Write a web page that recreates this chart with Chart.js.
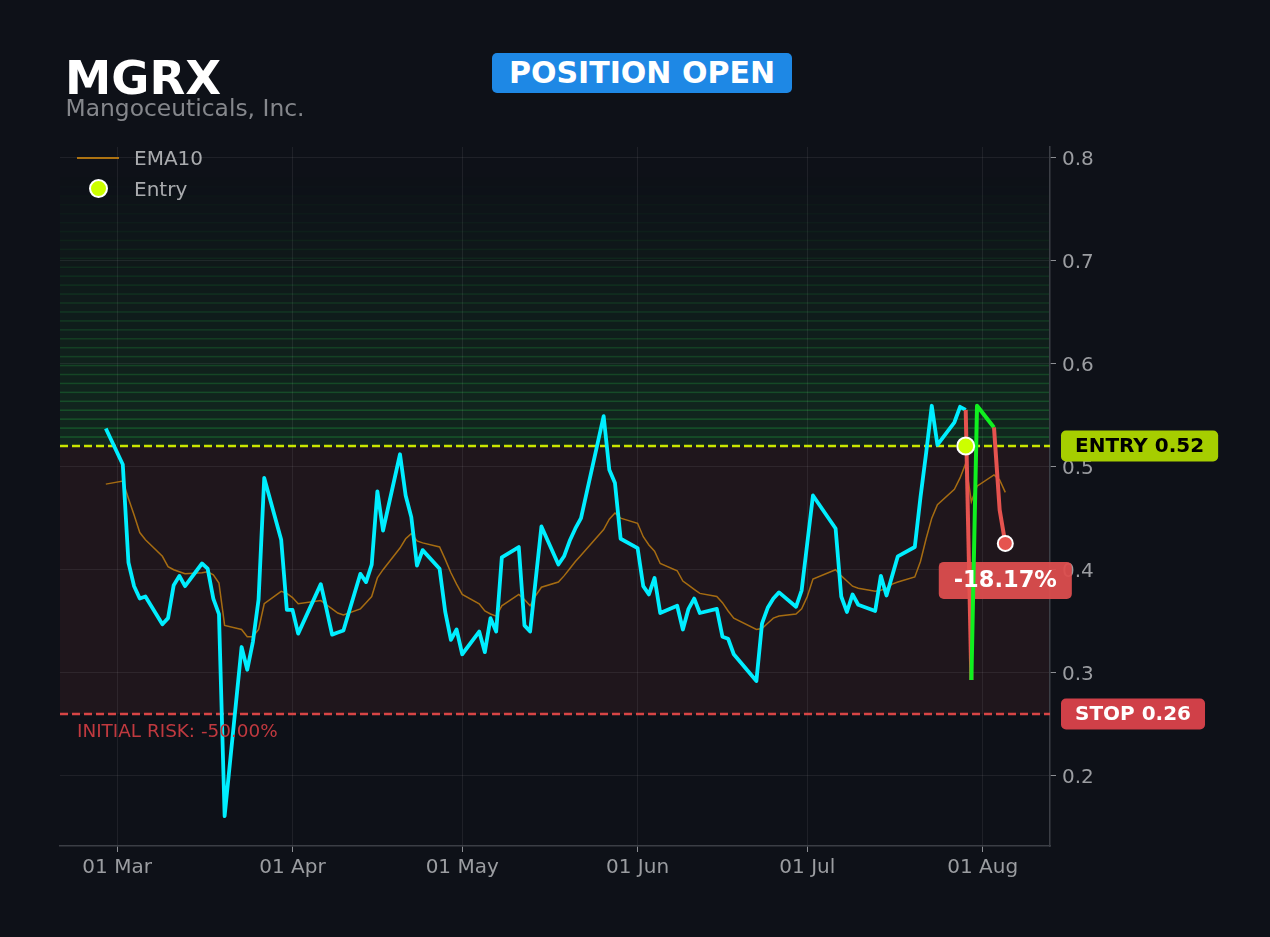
<!DOCTYPE html>
<html>
<head>
<meta charset="utf-8">
<title>MGRX - position open</title>
<script src="https://cdn.jsdelivr.net/npm/chart.js@4.4.1/dist/chart.umd.min.js"></script>
<style>
    html, body { margin: 0; padding: 0; background: #0e1118; }
    body { width: 1270px; height: 937px; position: relative; overflow: hidden; font-family: 'DejaVu Sans', sans-serif; }
    #chart { position: absolute; left: 0; top: 0; }
    .ticker { position: absolute; left: 65px; top: 55px; font-size: 46.5px; line-height: 46px; font-weight: bold; color: #ffffff; }
    .company { position: absolute; left: 65.5px; top: 97px; font-size: 23.4px; line-height: 23px; color: #85878c; }
    .status { position: absolute; left: 492px; top: 53px; width: 300px; height: 40px; line-height: 40px; border-radius: 5px;
              background: #1e88e5; color: #fff; font-size: 30px; font-weight: bold; text-align: center; }
    .lg-text { position: absolute; left: 134px; font-size: 20px; line-height: 20px; color: #a9abae; }
    .lg-line { position: absolute; left: 77px; top: 156.5px; width: 42px; height: 2px; background: rgba(200,130,15,0.85); }
    .lg-dot { position: absolute; left: 88.5px; top: 178.5px; width: 15px; height: 15px; border: 2px solid #fff; border-radius: 50%; background: #ccff00; }
</style>
</head>
<body>
<canvas id="chart" width="1270" height="937"></canvas>
<div class="ticker">MGRX</div>
<div class="company">Mangoceuticals, Inc.</div>
<div class="status">POSITION OPEN</div>
<div class="lg-line"></div>
<div class="lg-text" style="top:148px">EMA10</div>
<div class="lg-dot"></div>
<div class="lg-text" style="top:178.5px">Entry</div>

<script>
// ---- data ----
const DATES = [
    '2026-02-27',
    '2026-03-02', '2026-03-03', '2026-03-04', '2026-03-05', '2026-03-06',
    '2026-03-09', '2026-03-10', '2026-03-11', '2026-03-12', '2026-03-13',
    '2026-03-16', '2026-03-17', '2026-03-18', '2026-03-19', '2026-03-20',
    '2026-03-23', '2026-03-24', '2026-03-25', '2026-03-26', '2026-03-27',
    '2026-03-30', '2026-03-31', '2026-04-01', '2026-04-02',
    '2026-04-06', '2026-04-07', '2026-04-08', '2026-04-09', '2026-04-10',
    '2026-04-13', '2026-04-14', '2026-04-15', '2026-04-16', '2026-04-17',
    '2026-04-20', '2026-04-21', '2026-04-22', '2026-04-23', '2026-04-24',
    '2026-04-27', '2026-04-28', '2026-04-29', '2026-04-30', '2026-05-01',
    '2026-05-04', '2026-05-05', '2026-05-06', '2026-05-07', '2026-05-08',
    '2026-05-11', '2026-05-12', '2026-05-13', '2026-05-14', '2026-05-15',
    '2026-05-18', '2026-05-19', '2026-05-20', '2026-05-21', '2026-05-22',
    '2026-05-26', '2026-05-27', '2026-05-28', '2026-05-29',
    '2026-06-01', '2026-06-02', '2026-06-03', '2026-06-04', '2026-06-05',
    '2026-06-08', '2026-06-09', '2026-06-10', '2026-06-11', '2026-06-12',
    '2026-06-15', '2026-06-16', '2026-06-17', '2026-06-18',
    '2026-06-22', '2026-06-23', '2026-06-24', '2026-06-25', '2026-06-26',
    '2026-06-29', '2026-06-30', '2026-07-01', '2026-07-02',
    '2026-07-06', '2026-07-07', '2026-07-08', '2026-07-09', '2026-07-10',
    '2026-07-13', '2026-07-14', '2026-07-15', '2026-07-16', '2026-07-17',
    '2026-07-20', '2026-07-21', '2026-07-22', '2026-07-23', '2026-07-24',
    '2026-07-27', '2026-07-28', '2026-07-29'
];
const CLOSE = [
    0.537,
    0.502, 0.407, 0.384, 0.372, 0.374,
    0.347, 0.353, 0.385, 0.394, 0.384,
    0.406, 0.401, 0.372, 0.357, 0.161,
    0.325, 0.303, 0.330, 0.371, 0.489,
    0.429, 0.361, 0.361, 0.338,
    0.386, 0.362, 0.337, 0.339, 0.341,
    0.396, 0.388, 0.405, 0.476, 0.438,
    0.512, 0.472, 0.451, 0.404, 0.419,
    0.401, 0.359, 0.332, 0.342, 0.318,
    0.340, 0.320, 0.353, 0.340, 0.412,
    0.422, 0.346, 0.340, 0.391, 0.442,
    0.405, 0.413, 0.428, 0.440, 0.450,
    0.549, 0.497, 0.484, 0.430,
    0.421, 0.384, 0.376, 0.392, 0.358,
    0.365, 0.342, 0.362, 0.372, 0.358,
    0.362, 0.335, 0.333, 0.318,
    0.292, 0.348, 0.363, 0.372, 0.378,
    0.364, 0.380, 0.426, 0.472,
    0.440, 0.374, 0.359, 0.376, 0.366,
    0.360, 0.394, 0.375, 0.394, 0.413,
    0.422, 0.470, 0.513, 0.559, 0.521,
    0.543, 0.558, 0.555
];

// after the entry day
const POST_DATES = ['2026-07-29', '2026-07-30', '2026-07-31', '2026-08-03', '2026-08-04', '2026-08-05'];
const POST_CLOSE = [0.555, 0.293, 0.559, 0.538, 0.458, 0.4255];

// EMA10, one value per day of DATES followed by POST_DATES (without the repeated entry day)
const EMA10 = [
    0.483,
    0.486, 0.469, 0.453, 0.436, 0.429,
    0.413, 0.403, 0.400, 0.398, 0.396,
    0.397, 0.398, 0.395, 0.387, 0.346,
    0.342, 0.335, 0.335, 0.342, 0.367,
    0.379, 0.377, 0.373, 0.367,
    0.370, 0.366, 0.362, 0.358, 0.356,
    0.362, 0.368, 0.374, 0.392, 0.400,
    0.421, 0.430, 0.435, 0.428, 0.426,
    0.422, 0.410, 0.397, 0.386, 0.376,
    0.367, 0.360, 0.357, 0.355, 0.365,
    0.376, 0.371, 0.365, 0.375, 0.383,
    0.388, 0.394, 0.401, 0.408, 0.414,
    0.439, 0.449, 0.455, 0.450,
    0.445, 0.432, 0.424, 0.418, 0.406,
    0.399, 0.389, 0.385, 0.381, 0.377,
    0.374, 0.368, 0.360, 0.353,
    0.342, 0.343, 0.348, 0.353, 0.355,
    0.357, 0.362, 0.374, 0.391,
    0.400, 0.394, 0.389, 0.384, 0.382,
    0.379, 0.380, 0.382, 0.386, 0.388,
    0.393, 0.408, 0.430, 0.450, 0.463,
    0.478, 0.489, 0.503,
    0.466, 0.481, 0.492, 0.487, 0.475
];

const ENTRY_DATE = '2026-07-29';
const ENTRY_PRICE = 0.52;
const STOP_PRICE = 0.26;
const TARGET_PRICE = 0.78;

const TICK_DATES = ['2026-03-01', '2026-04-01', '2026-05-01', '2026-06-01', '2026-07-01', '2026-08-01'];
const TICK_LABELS = ['01 Mar', '01 Apr', '01 May', '01 Jun', '01 Jul', '01 Aug'];
const Y_TICKS = [0.2, 0.3, 0.4, 0.5, 0.6, 0.7, 0.8];

// ---- helpers ----
const DAY0 = Date.UTC(2026, 2, 1);
const toDay = s => (Date.parse(s + 'T00:00:00Z') - DAY0) / 864e5;

const CYAN = '#00eeff';
const GREEN = '#10f020';
const RED = '#e5534f';
const FONT = "'DejaVu Sans', sans-serif";
const BANDS = 30;

const exitDate = POST_DATES[POST_DATES.length - 1];
const exitPrice = POST_CLOSE[POST_CLOSE.length - 1];
const pnlText = ((exitPrice / ENTRY_PRICE - 1) * 100).toFixed(2) + '%';
const riskText = 'INITIAL RISK: ' + ((STOP_PRICE / ENTRY_PRICE - 1) * 100).toFixed(2) + '%';

const closePts = DATES.map((d, i) => ({ x: toDay(d), y: CLOSE[i] }));
const postPts = POST_DATES.map((d, i) => ({ x: toDay(d), y: POST_CLOSE[i] }));
const emaPts = DATES.concat(POST_DATES.slice(1)).map((d, i) => ({ x: toDay(d), y: EMA10[i] }));

function badge(ctx, text, x, yc, bg, font, padX, h, align) {
    ctx.font = font;
    const w = ctx.measureText(text).width + padX * 2;
    const left = align === 'center' ? x - w / 2 : x;
    ctx.fillStyle = bg;
    ctx.beginPath();
    ctx.roundRect(left, yc - h / 2, w, h, 5);
    ctx.fill();
    return { left, w };
}

// zones, reference lines and price tags
const zonesPlugin = {
    id: 'zones',
    beforeDraw(chart) {
        const { ctx, chartArea: a, scales: { y } } = chart;
        const yEntry = y.getPixelForValue(ENTRY_PRICE);
        const yStop = y.getPixelForValue(STOP_PRICE);
        ctx.save();
        ctx.beginPath();
        ctx.rect(a.left, a.top, a.width, a.height);
        ctx.clip();
        ctx.fillStyle = 'rgba(217,83,79,0.085)';
        ctx.fillRect(a.left, yEntry, a.width, yStop - yEntry);
        const step = (TARGET_PRICE - ENTRY_PRICE) / BANDS;
        for (let i = 0; i < BANDS; i++) {
            const y0 = y.getPixelForValue(ENTRY_PRICE + i * step);
            const y1 = y.getPixelForValue(ENTRY_PRICE + (i + 1) * step);
            const k = 1 - i / BANDS;
            ctx.fillStyle = `rgba(40,180,70,${0.14 * k})`;
            ctx.fillRect(a.left, y1, a.width, y0 - y1);
            ctx.fillStyle = `rgba(40,180,70,${0.34 * k})`;
            ctx.fillRect(a.left, y1 - 0.75, a.width, 1.5);
        }
        ctx.restore();
    },
    beforeDatasetsDraw(chart) {
        const { ctx, chartArea: a, scales: { x, y } } = chart;
        ctx.save();
        ctx.lineWidth = 2.4;
        ctx.setLineDash([8, 4]);
        ctx.strokeStyle = '#c8e600';
        ctx.beginPath();
        ctx.moveTo(a.left, y.getPixelForValue(ENTRY_PRICE));
        ctx.lineTo(a.right, y.getPixelForValue(ENTRY_PRICE));
        ctx.stroke();
        ctx.strokeStyle = '#d64545';
        ctx.beginPath();
        ctx.moveTo(a.left, y.getPixelForValue(STOP_PRICE));
        ctx.lineTo(a.right, y.getPixelForValue(STOP_PRICE));
        ctx.stroke();
        ctx.setLineDash([]);
        // result badge sits under the lines
        badge(ctx, pnlText, x.getPixelForValue(toDay(exitDate)), y.getPixelForValue(exitPrice) + 37,
              'rgba(220,78,78,0.95)', `bold 22.5px ${FONT}`, 15, 37, 'center');
        ctx.restore();
    },
    afterDatasetsDraw(chart) {
        const { ctx, chartArea: a, scales: { x, y } } = chart;
        ctx.save();
        ctx.font = `bold 22.5px ${FONT}`;
        ctx.fillStyle = '#fff';
        ctx.textAlign = 'center';
        ctx.textBaseline = 'middle';
        ctx.fillText(pnlText, x.getPixelForValue(toDay(exitDate)), y.getPixelForValue(exitPrice) + 38);

        // initial risk note
        ctx.font = `18.4px ${FONT}`;
        ctx.textAlign = 'left';
        ctx.fillStyle = '#c0393f';
        ctx.fillText(riskText, a.left + 17, y.getPixelForValue(STOP_PRICE) + 18);

        // right side price tags
        const tagX = a.right + 11;
        const font = `bold 20px ${FONT}`;
        let yc = y.getPixelForValue(ENTRY_PRICE);
        let b = badge(ctx, 'ENTRY ' + ENTRY_PRICE.toFixed(2), tagX, yc, '#a6ce00', font, 14, 31, 'left');
        ctx.fillStyle = '#000';
        ctx.fillText('ENTRY ' + ENTRY_PRICE.toFixed(2), b.left + 14, yc + 1);
        yc = y.getPixelForValue(STOP_PRICE);
        b = badge(ctx, 'STOP ' + STOP_PRICE.toFixed(2), tagX, yc, '#d04048', font, 14, 31, 'left');
        ctx.fillStyle = '#fff';
        ctx.fillText('STOP ' + STOP_PRICE.toFixed(2), b.left + 14, yc + 1);
        ctx.restore();
    }
};

const gridColor = 'rgba(255,255,255,0.07)';
const tickColor = '#9b9da1';

new Chart(document.getElementById('chart'), {
    type: 'line',
    data: {
        datasets: [
            {
                label: 'Entry',
                data: [{ x: toDay(ENTRY_DATE), y: ENTRY_PRICE }],
                showLine: false,
                pointRadius: 8.5,
                pointBackgroundColor: '#ccff00',
                pointBorderColor: '#ffffff',
                pointBorderWidth: 2,
                order: 0
            },
            {
                label: 'Exit',
                data: [{ x: toDay(exitDate), y: exitPrice }],
                showLine: false,
                pointRadius: 7.5,
                pointBackgroundColor: '#e5534f',
                pointBorderColor: '#ffffff',
                pointBorderWidth: 2,
                order: 0
            },
            {
                label: 'Since entry',
                data: postPts,
                borderWidth: 4,
                pointRadius: 0,
                tension: 0,
                borderJoinStyle: 'round',
                borderColor: GREEN,
                segment: {
                    borderColor: c => c.p1.parsed.y >= ENTRY_PRICE ? GREEN : RED
                },
                order: 1
            },
            {
                label: 'Close',
                data: closePts,
                borderColor: CYAN,
                borderWidth: 3.8,
                borderJoinStyle: 'round',
                pointRadius: 0,
                tension: 0,
                order: 2
            },
            {
                label: 'EMA10',
                data: emaPts,
                borderColor: 'rgba(200,130,15,0.8)',
                borderWidth: 1.5,
                pointRadius: 0,
                tension: 0,
                order: 3
            }
        ]
    },
    options: {
        responsive: false,
        animation: false,
        events: [],
        layout: { padding: { left: 60, top: 147, right: 0, bottom: 0 } },
        plugins: {
            legend: { display: false },
            tooltip: { enabled: false }
        },
        scales: {
            x: {
                type: 'linear',
                min: -10.1,
                max: 164.9,
                grid: { color: gridColor, lineWidth: 1, drawTicks: true, tickLength: 6, tickColor: '#8d8f94' },
                border: { color: '#3b3e45', width: 1.5 },
                ticks: {
                    color: tickColor,
                    font: { family: FONT, size: 20 },
                    padding: 4,
                    maxRotation: 0,
                    callback: v => TICK_LABELS[TICK_DATES.map(toDay).indexOf(v)] || ''
                },
                afterBuildTicks: s => { s.ticks = TICK_DATES.map(d => ({ value: toDay(d) })); },
                afterFit: s => { s.height = 91; }
            },
            y: {
                type: 'linear',
                position: 'right',
                min: 0.132,
                max: 0.81,
                grid: { color: gridColor, lineWidth: 1, drawTicks: true, tickLength: 6, tickColor: '#8d8f94' },
                border: { color: '#3b3e45', width: 1.5 },
                ticks: {
                    color: tickColor,
                    font: { family: FONT, size: 20 },
                    padding: 6,
                    labelOffset: 2,
                    callback: v => v.toFixed(1)
                },
                afterBuildTicks: s => { s.ticks = Y_TICKS.map(v => ({ value: v })); },
                afterFit: s => { s.width = 220; }
            }
        }
    },
    plugins: [zonesPlugin]
});
</script>
</body>
</html>
